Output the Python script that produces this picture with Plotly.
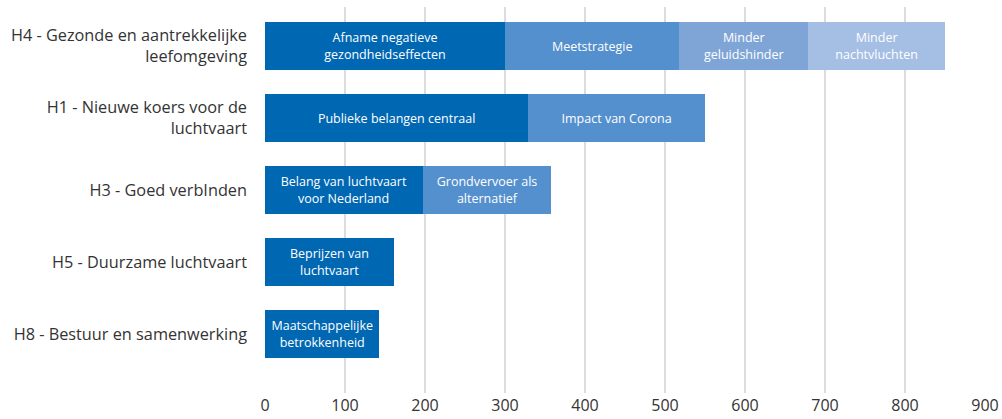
import plotly.graph_objects as go

categories = [
    "H4 - Gezonde en aantrekkelijke<br>leefomgeving",
    "H1 - Nieuwe koers voor de<br>luchtvaart",
    "H3 - Goed verbInden",
    "H5 - Duurzame luchtvaart",
    "H8 - Bestuur en samenwerking",
]

seg1_values = [300, 329, 197, 161, 143]
seg1_labels = ["Afname negatieve<br>gezondheidseffecten", "Publieke belangen centraal",
               "Belang van luchtvaart<br>voor Nederland", "Beprijzen van<br>luchtvaart",
               "Maatschappelijke<br>betrokkenheid"]
seg2_values = [218, 221, 161, None, None]
seg2_labels = ["Meetstrategie", "Impact van Corona", "Grondvervoer als<br>alternatief", "", ""]
seg3_values = [161, None, None, None, None]
seg3_labels = ["Minder<br>geluidshinder", "", "", "", ""]
seg4_values = [171, None, None, None, None]
seg4_labels = ["Minder<br>nachtvluchten", "", "", "", ""]

x_ticks = [0, 100, 200, 300, 400, 500, 600, 700, 800, 900]

segments = [
    (seg1_values, seg1_labels, "#0067B3"),
    (seg2_values, seg2_labels, "#5490CD"),
    (seg3_values, seg3_labels, "#7FA5D7"),
    (seg4_values, seg4_labels, "#A5BEE3"),
]

fig = go.Figure()
for vals, labels, color in segments:
    fig.add_trace(go.Bar(
        y=categories, x=vals, orientation="h",
        text=labels, textposition="inside", insidetextanchor="middle",
        constraintext="none",
        textfont=dict(color="white", size=12.5, family="Open Sans"),
        marker=dict(color=color, line=dict(width=0)),
        width=0.667, hoverinfo="skip", showlegend=False,
    ))

fig.update_layout(
    barmode="stack",
    width=1002, height=419,
    margin=dict(l=265, r=17, t=7, b=26),
    plot_bgcolor="white", paper_bgcolor="white",
    font=dict(family="Open Sans", color="#333333"),
    xaxis=dict(range=[0, 900], tickvals=x_ticks, showgrid=True, automargin=False,
               gridcolor="#DCDCDC", gridwidth=1.5, zeroline=False,
               tickfont=dict(size=16, color="#333333"), ticks="", showline=False,
               ticklabelstandoff=1),
    yaxis=dict(categoryorder="array", categoryarray=categories, automargin=False,
               range=[4.819, -0.542], showgrid=False, zeroline=False,
               tickfont=dict(size=16.3, color="#333333"), ticks="",
               ticklabelstandoff=17),
)

fig.write_html(
    "out.html",
    config={"displayModeBar": False},
    post_script="document.body.style.margin='0px';document.body.style.overflow='hidden';",
)
